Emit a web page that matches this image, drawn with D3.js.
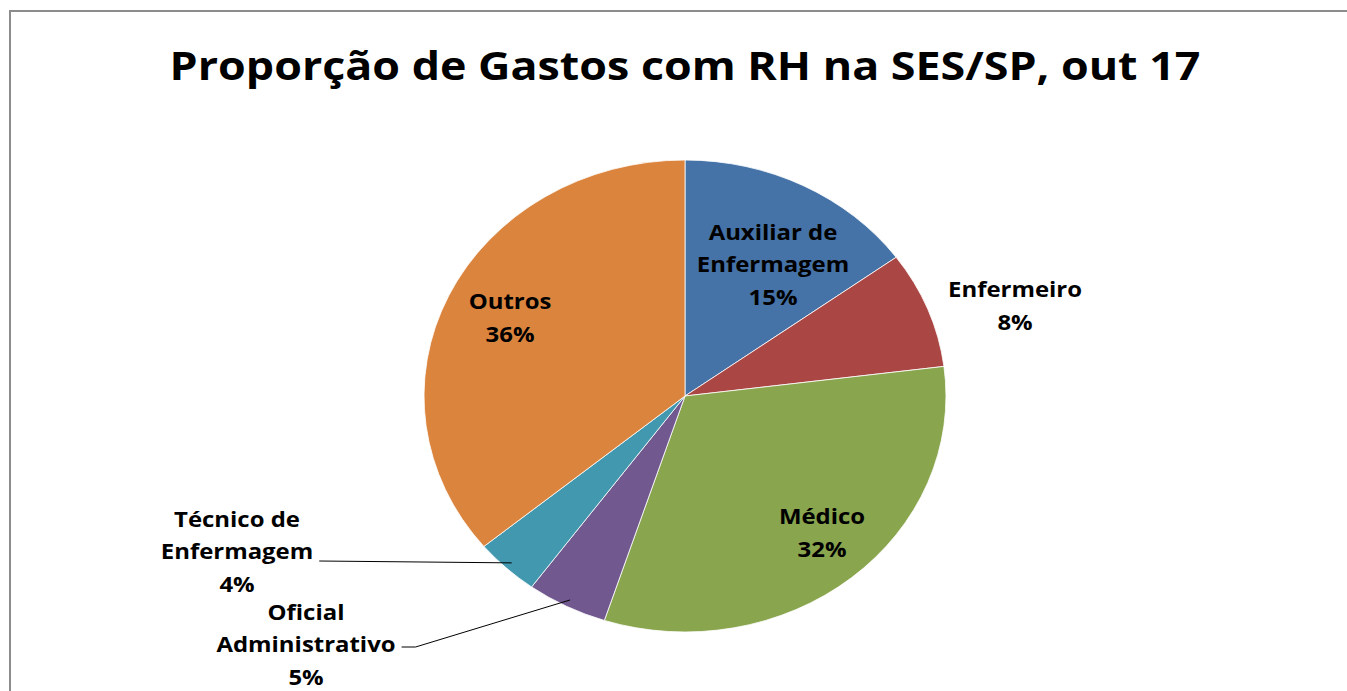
<!DOCTYPE html>
<html>
<head>
<meta charset="utf-8">
<script src="https://cdn.jsdelivr.net/npm/d3@7"></script>
<style>
  html, body { margin: 0; padding: 0; background: #fff; }
  svg { display: block; font-family: "Open Sans", "DejaVu Sans", sans-serif; }
</style>
</head>
<body>
<div id="chart"></div>
<script>
// dados do gráfico (ordem horária a partir do topo)
const categories = ["Auxiliar de Enfermagem", "Enfermeiro", "Médico", "Oficial Administrativo", "Técnico de Enfermagem", "Outros"];
const values = [15, 8, 32, 5, 4, 36];
const colors = ["#4572A7", "#AA4643", "#89A54E", "#71588F", "#4198AF", "#DB843D"];
const labelLines = [["Auxiliar de", "Enfermagem"], ["Enfermeiro"], ["Médico"], ["Oficial", "Administrativo"], ["Técnico de", "Enfermagem"], ["Outros"]];
const title = "Proporção de Gastos com RH na SES/SP, out 17";

const W = 1347, H = 691;
const cx = 685, cy = 396, ry = 236, rx = 261;
const stretch = 1.14; // texto esticado na horizontal como na imagem original

// posição do centro de cada rótulo (layout)
const labelPos = [
  { x: 773, y: 265 },
  { x: 1015, y: 306 },
  { x: 822, y: 533 },
  { x: 306, y: 645, leader: true },
  { x: 237, y: 552, leader: true },
  { x: 510, y: 318 }
];

const svg = d3.select("#chart").append("svg")
  .attr("width", W).attr("height", H);

// fragmento de texto cortado no topo
svg.append("text").attr("x", 70).attr("y", -9)
  .style("font-size", "20px").style("fill", "#222").text("y");

// moldura
svg.append("rect")
  .attr("x", 10).attr("y", 11)
  .attr("width", W + 20).attr("height", H + 20)
  .attr("fill", "none").attr("stroke", "#8c8c8c").attr("stroke-width", 2);

svg.append("g")
  .attr("transform", `translate(${cx},80) scale(1.12,1)`)
  .append("text")
  .attr("text-anchor", "middle")
  .style("font-size", "40px").style("font-weight", "bold").style("fill", "#000")
  .text(title);

const data = categories.map((c, i) => ({ name: c, value: values[i], color: colors[i], lines: labelLines[i] }));

const pie = d3.pie().value(d => d.value).sort(null);
const arcs = pie(data);
const arc = d3.arc().innerRadius(0).outerRadius(ry);

const g = svg.append("g")
  .attr("transform", `translate(${cx},${cy}) scale(${rx / ry},1)`);

g.selectAll("path")
  .data(arcs)
  .join("path")
  .attr("d", arc)
  .attr("fill", d => d.data.color)
  .attr("stroke", "#fff")
  .attr("stroke-width", 0.8)
  .attr("vector-effect", "non-scaling-stroke");

// rótulos
const lineH = 32.5;
const textW = [];
arcs.forEach((a, i) => {
  const p = labelPos[i];
  const lines = a.data.lines.concat([a.data.value + "%"]);
  const y0 = lines.length === 3 ? p.y - lineH : p.y - lineH / 2;
  const t = svg.append("g")
    .attr("transform", `translate(${p.x},0) scale(${stretch},1)`)
    .append("text")
    .attr("text-anchor", "middle")
    .style("font-size", "21px").style("font-weight", "bold").style("fill", "#000");
  const spans = lines.map((l, k) =>
    t.append("tspan").attr("x", 0).attr("y", y0 + k * lineH).attr("dy", "0.35em").text(l));
  textW[i] = spans[1] ? spans[1].node().getComputedTextLength() * stretch : 0;
});

// linhas de chamada
arcs.forEach((a, i) => {
  const p = labelPos[i];
  if (!p.leader) return;
  const mid = (a.startAngle + a.endAngle) / 2;
  const ex = cx + rx * 0.97 * Math.sin(mid);
  const ey = cy - ry * 0.97 * Math.cos(mid);
  const sx = p.x + textW[i] / 2 + 6;
  const path = i === 3
    ? `M${sx},${p.y + 2}L${sx + 14},${p.y + 2}L${ex},${ey}`
    : `M${sx},${p.y + 9}L${ex},${ey}`;
  svg.append("path").attr("d", path)
    .attr("fill", "none").attr("stroke", "#000").attr("stroke-width", 1);
});
</script>
</body>
</html>
